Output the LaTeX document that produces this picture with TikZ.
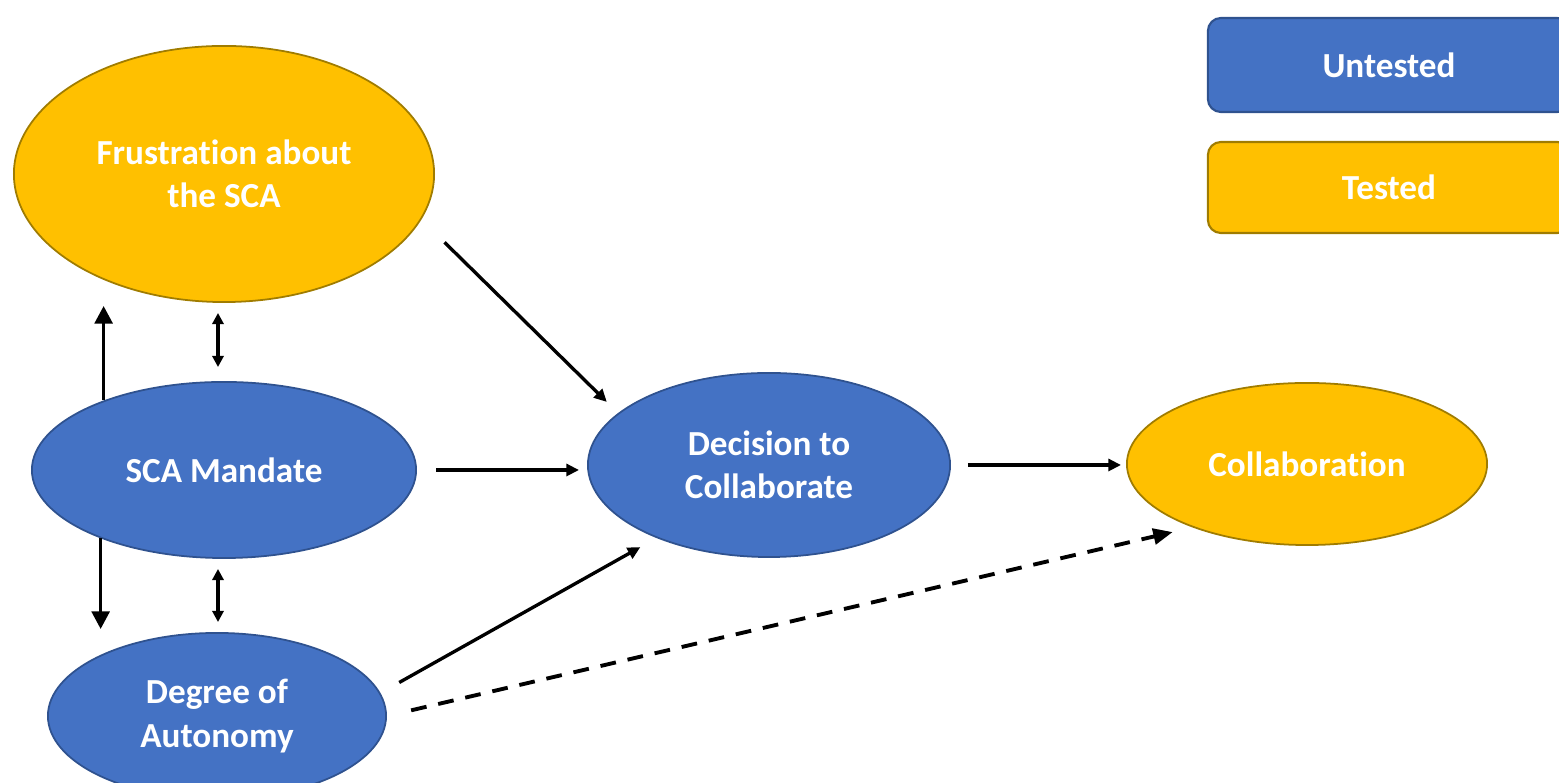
\documentclass[tikz,border=0pt]{standalone}
\usepackage{fontspec}
\setmainfont[RawFeature=-liga]{Carlito}
\usetikzlibrary{shapes.geometric,arrows.meta}
\definecolor{nodeblue}{HTML}{4472C4}
\definecolor{blueedge}{HTML}{2F528F}
\definecolor{nodegold}{HTML}{FFC000}
\definecolor{goldedge}{HTML}{A07C00}

\begin{document}
\begin{tikzpicture}[x=0.01cm,y=-0.01cm,
  oval/.style={ellipse, inner sep=0pt, line width=0.5pt, text=white, align=center,
    font=\fontsize{10pt}{12.3pt}\selectfont\bfseries},
  untested/.style={oval, fill=nodeblue, draw=blueedge},
  tested/.style={oval, fill=nodegold, draw=goldedge},
  key/.style={rectangle, rounded corners=0.13cm, inner sep=0pt, minimum width=3.62cm,
    line width=0.6pt, text=white, font=\fontsize{10pt}{12.3pt}\selectfont\bfseries},
  link/.style={line width=0.95pt, -{Triangle[length=3.6pt,width=3.4pt]}},
  biglink/.style={line width=1.05pt, -{Triangle[length=5pt,width=5pt]}},
  twoway/.style={line width=0.9pt, {Triangle[length=3.2pt,width=3.2pt]}-{Triangle[length=3.2pt,width=3.2pt]}},
  dashlink/.style={line width=1.1pt, dash pattern=on 4.5pt off 3.4pt, -{Triangle[length=5.5pt,width=4.5pt]}}
]
\useasboundingbox (0,0) rectangle (1559,783);
\clip (0,0) rectangle (1559,783);

% legend
\node[key, fill=nodeblue, draw=blueedge, minimum height=0.94cm] (keyu) at (1389,65) {Untested};
\node[key, fill=nodegold, draw=goldedge, minimum height=0.91cm] (keyt) at (1389,187.5) {Tested};

% constructs
\node[tested, minimum width=4.2cm, minimum height=2.56cm] (frus) at (224,174) {Frustration about\\the SCA};
\node[untested, minimum width=3.84cm, minimum height=1.76cm] (sca) at (224,470) {SCA Mandate};
\node[untested, minimum width=3.38cm, minimum height=1.66cm] (deg) at (217,716) {Degree of\\Autonomy};
\node[untested, minimum width=3.62cm, minimum height=1.84cm] (dec) at (769,465) {Decision to\\Collaborate};
\node[tested, minimum width=3.6cm, minimum height=1.62cm] (coll) at (1307,464) {Collaboration};

% paths into the decision and on to collaboration
\draw[link, shorten <=0.325cm, shorten >=0.158cm] (frus.-13.3) -- (dec.161.3);
\draw[link, shorten <=0.19cm, shorten >=0.08cm] (sca.east) -- (sca.east -| dec.west);
\draw[link, shorten <=0.215cm, shorten >=0.185cm] (deg.8.3) -- (dec.213.65);
\draw[link, shorten <=0.17cm, shorten >=0.05cm] (dec.east) -- (dec.east -| coll.west);
\draw[dashlink, shorten <=0.248cm, shorten >=0.204cm] (deg.-0.57) -- (coll.209.45);

% links among the antecedents
\draw[biglink, shorten >=0.03cm] (sca.150.9) -- (sca.150.9 |- frus.south);
\draw[biglink, shorten >=0.03cm] (sca.209.1) -- (sca.209.1 |- deg.north);
\draw[twoway, shorten <=0.1cm, shorten >=0.14cm] ([xshift=-0.06cm]frus.south) -- ([xshift=-0.06cm]sca.north);
\draw[twoway, shorten <=0.1cm, shorten >=0.1cm] ([xshift=-0.06cm]sca.south) -- ([xshift=-0.06cm]sca.south |- deg.north);
\end{tikzpicture}
\end{document}
